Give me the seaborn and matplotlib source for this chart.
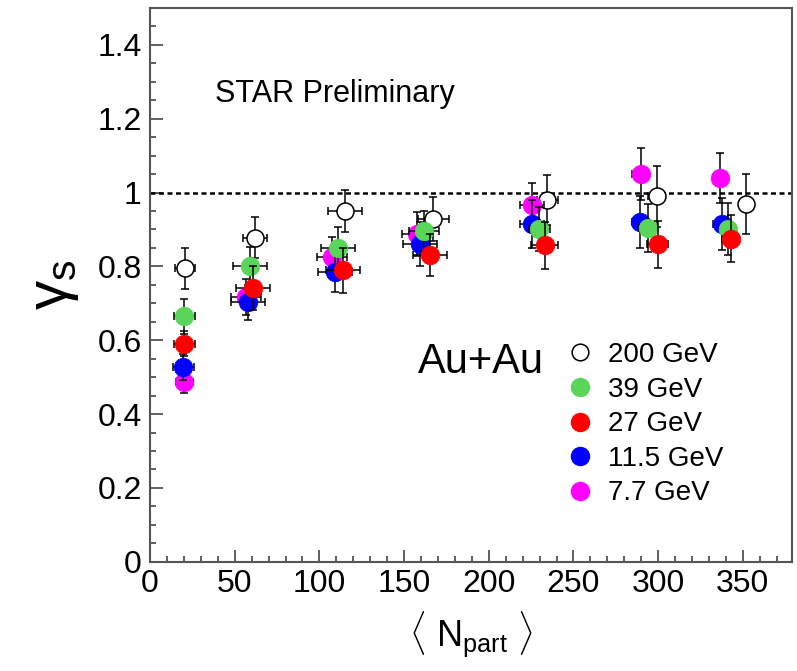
import numpy as np
import pandas as pd
import matplotlib
matplotlib.use("Agg")
import matplotlib.pyplot as plt
import seaborn as sns
from matplotlib.lines import Line2D
from matplotlib.ticker import MultipleLocator, FuncFormatter

# ---------------- data ----------------
energies = ["200 GeV", "39 GeV", "27 GeV", "11.5 GeV", "7.7 GeV"]

npart_200 = [20.7, 62.0, 115.2, 167.3, 234.6, 299.2, 351.7]
gs_200 = [0.795, 0.878, 0.950, 0.929, 0.979, 0.990, 0.968]
ex_200 = [6, 7, 10, 9, 6, 5, 4]
ey_200 = [0.056, 0.056, 0.057, 0.060, 0.068, 0.082, 0.081]

npart_39 = [20.3, 59.0, 111.2, 161.8, 229.9, 293.9, 341.5]
gs_39 = [0.665, 0.800, 0.851, 0.896, 0.901, 0.905, 0.902]
ex_39 = [6, 10, 10, 9, 6, 5, 4]
ey_39 = [0.048, 0.052, 0.056, 0.055, 0.060, 0.065, 0.070]

npart_27 = [20.3, 60.6, 113.8, 165.3, 232.9, 299.6, 342.9]
gs_27 = [0.591, 0.742, 0.789, 0.832, 0.857, 0.860, 0.875]
ex_27 = [6, 10, 10, 10, 8, 6, 5]
ey_27 = [0.035, 0.060, 0.060, 0.057, 0.063, 0.063, 0.064]

npart_115 = [19.7, 58.1, 109.2, 159.4, 225.4, 289.4, 337.6]
gs_115 = [0.528, 0.703, 0.785, 0.860, 0.914, 0.920, 0.914]
ex_115 = [6, 10, 10, 10, 7, 5, 5]
ey_115 = [0.035, 0.047, 0.055, 0.060, 0.065, 0.070, 0.070]

npart_77 = [20.3, 56.7, 107.3, 157.5, 225.4, 289.8, 336.6]
gs_77 = [0.487, 0.717, 0.825, 0.888, 0.965, 1.051, 1.040]
ex_77 = [5, 9, 9, 9, 7, 5, 4]
ey_77 = [0.031, 0.050, 0.055, 0.060, 0.062, 0.070, 0.067]

colors = {"200 GeV": "white", "39 GeV": "#5AD55A", "27 GeV": "#FF0000",
          "11.5 GeV": "#0000FF", "7.7 GeV": "#FF00FF"}

series = {
    "200 GeV": (npart_200, gs_200, ex_200, ey_200),
    "39 GeV": (npart_39, gs_39, ex_39, ey_39),
    "27 GeV": (npart_27, gs_27, ex_27, ey_27),
    "11.5 GeV": (npart_115, gs_115, ex_115, ey_115),
    "7.7 GeV": (npart_77, gs_77, ex_77, ey_77),
}
draw_order = ["200 GeV", "7.7 GeV", "11.5 GeV", "39 GeV", "27 GeV"]

rows = []
for e, (x, y, ex, ey) in series.items():
    for xi, yi, exi, eyi in zip(x, y, ex, ey):
        rows.append(dict(energy=e, npart=xi, gamma=yi, ex=exi, ey=eyi))
df = pd.DataFrame(rows)

# ---------------- style ----------------
sns.set_theme(style="white")
plt.rcParams["font.family"] = ["Liberation Sans", "DejaVu Sans"]
plt.rcParams["mathtext.fontset"] = "custom"
plt.rcParams["mathtext.rm"] = "Liberation Sans"
plt.rcParams["mathtext.it"] = "Liberation Sans:italic"
plt.rcParams["mathtext.bf"] = "Liberation Sans:bold"
plt.rcParams["text.color"] = "black"
plt.rcParams["axes.labelcolor"] = "black"
plt.rcParams["legend.labelcolor"] = "black"

fig = plt.figure(figsize=(7.97, 6.71), dpi=100)
ax = fig.add_axes([150 / 797, 1 - 561.7 / 671, 642 / 797, 553.7 / 671])

z = 3
for e in draw_order:
    sub = df[df.energy == e]
    ax.errorbar(sub.npart, sub.gamma, xerr=sub.ex, yerr=sub.ey, fmt="none",
                ecolor="black", elinewidth=1.1, capsize=3, capthick=1.1,
                zorder=z)
    if e == "200 GeV":
        sns.scatterplot(data=sub, x="npart", y="gamma", ax=ax, color="white",
                        edgecolor="black", linewidth=1.1, s=150, zorder=z + 1,
                        legend=False)
    else:
        sns.scatterplot(data=sub, x="npart", y="gamma", ax=ax,
                        color=colors[e], edgecolor=colors[e], linewidth=0.5,
                        s=180, zorder=z + 1, legend=False)
    z += 2

ax.axhline(1.0, color="black", lw=1.8, ls=(0, (2, 1.4)), zorder=2)

ax.set_xlim(0, 379)
ax.set_ylim(0, 1.5)
ax.xaxis.set_major_locator(MultipleLocator(50))
ax.xaxis.set_minor_locator(MultipleLocator(10))
ax.yaxis.set_major_locator(MultipleLocator(0.2))
ax.yaxis.set_minor_locator(MultipleLocator(0.05))
ax.yaxis.set_major_formatter(FuncFormatter(lambda v, p: f"{v:g}"))
ax.xaxis.set_major_formatter(FuncFormatter(lambda v, p: f"{v:g}"))
ax.tick_params(axis="both", which="both", direction="in", top=False,
               right=False, bottom=True, left=True, colors="#444444",
               labelcolor="black", labelsize=23)
ax.tick_params(axis="both", which="major", length=9, width=1.2)
ax.tick_params(axis="both", which="minor", length=4.5, width=1.2)
ax.tick_params(axis="y", pad=6)
ax.tick_params(axis="x", pad=5)
for sp in ax.spines.values():
    sp.set_color("#555555")
    sp.set_linewidth(1.5)

ax.set_xlabel(r"$\langle\ \mathrm{N}_{\mathrm{part}}\ \rangle$", fontsize=26,
              labelpad=8, color="black")
ax.set_ylabel(r"$\mathrm{\gamma}_{\mathrm{s}}$", fontsize=42, labelpad=12,
              color="black")

ax.text(0.101, 0.831, "STAR Preliminary", transform=ax.transAxes,
        fontsize=22, va="baseline", ha="left", color="black")
ax.text(0.417, 0.341, "Au+Au", transform=ax.transAxes, fontsize=30,
        va="baseline", ha="left", color="black")

handles = []
for e in energies:
    if e == "200 GeV":
        h = Line2D([], [], ls="none", marker="o", markersize=12,
                   markerfacecolor="white", markeredgecolor="black",
                   markeredgewidth=1.1)
    else:
        h = Line2D([], [], ls="none", marker="o", markersize=13,
                   markerfacecolor=colors[e], markeredgecolor=colors[e])
    handles.append(h)
leg = ax.legend(handles, energies, loc="upper left",
                bbox_to_anchor=(566 / 797, 1 - 342 / 671),
                bbox_transform=fig.transFigure, frameon=False, fontsize=20,
                handlelength=1.0, handletextpad=0.5, labelspacing=0.31,
                borderpad=0, borderaxespad=0, labelcolor="black")

fig.savefig("out.png", dpi=100)
